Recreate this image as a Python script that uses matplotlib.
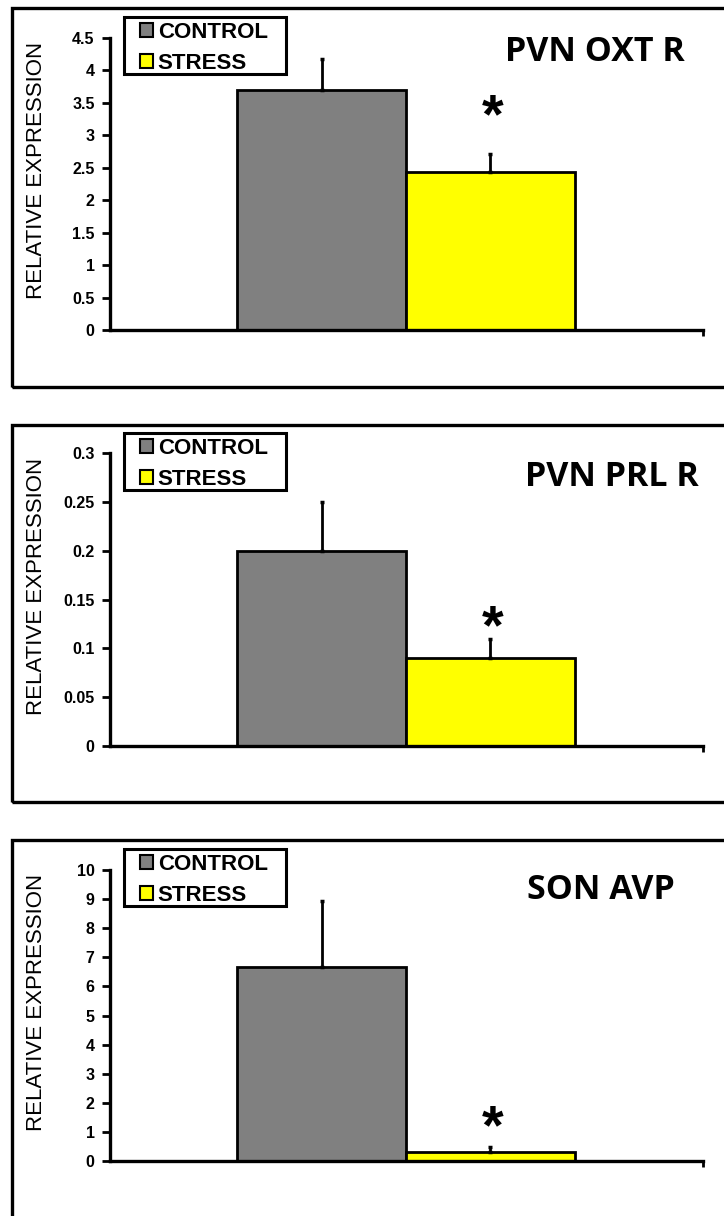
import matplotlib
matplotlib.use("Agg")
import matplotlib.pyplot as plt
from matplotlib.patches import Rectangle
import numpy as np

# ---- data ----
panel_titles = ["PVN OXT R", "PVN PRL R", "SON AVP"]
groups = ["CONTROL", "STRESS"]
control_means = [3.70, 0.20, 6.65]
control_err = [0.48, 0.05, 2.28]
stress_means = [2.43, 0.09, 0.30]
stress_err = [0.28, 0.02, 0.17]
ytick_labels = [
    ["0", "0.5", "1", "1.5", "2", "2.5", "3", "3.5", "4", "4.5"],
    ["0", "0.05", "0.1", "0.15", "0.2", "0.25", "0.3"],
    ["0", "1", "2", "3", "4", "5", "6", "7", "8", "9", "10"],
]
ylabel = "RELATIVE EXPRESSION"
sig_mark = "*"

colors = ["#808080", "#FFFF00"]

W, H = 724, 1216
fig = plt.figure(figsize=(W / 100, H / 100), dpi=100)

def fx(x):
    return x / W

def fy(y):
    return 1 - y / H

# layout in pixels (per panel)
frames = [(12, 8, 387), (12, 425, 802), (12, 840, 1230)]
axes_px = [(38, 330), (453, 746), (870, 1161)]
legend_top = [17, 433, 849]
title_pos = [(595, 52), (612, 477), (601, 890)]
star_y = [118, 629, 1129]
label_y = [170, 586, 1002]

ax_left, ax_right = 110, 703

for i in range(3):
    # outer frame
    fl, ft, fb = frames[i]
    fig.patches.append(Rectangle((fx(fl), fy(fb)), fx(740 - fl), fy(ft) - fy(fb),
                                 transform=fig.transFigure, fill=False,
                                 edgecolor="black", linewidth=2.4, zorder=0))
    top, bot = axes_px[i]
    ax = fig.add_axes([fx(ax_left), fy(bot), fx(ax_right - ax_left), fy(top) - fy(bot)])
    labels = ytick_labels[i]
    ticks = [float(t) for t in labels]
    ymax = ticks[-1]
    x = np.array([0, 1])
    means = [control_means[i], stress_means[i]]
    errs = [control_err[i], stress_err[i]]
    bars = []
    for j in range(2):
        b = ax.bar(x[j], means[j], width=1.0, color=colors[j], edgecolor="black",
                   linewidth=2.0, label=groups[j], zorder=2)
        bars.append(b)
    ax.errorbar(x, means, yerr=[[0, 0], errs], fmt="none", ecolor="black",
                elinewidth=2.0, capsize=1.5, capthick=2.5, zorder=3)
    xl0, xl1 = -1.256, 2.262
    ax.set_xlim(xl0, xl1)
    ax.set_ylim(0, ymax)
    ax.set_yticks(ticks)
    ax.set_yticklabels(labels, fontfamily="Liberation Sans", fontweight="bold", fontsize=11.5)
    ax.set_xticks([xl1])
    ax.set_xticklabels([""])
    ax.tick_params(axis="y", direction="out", length=6, width=2, pad=5)
    ax.tick_params(axis="x", direction="out", length=4, width=2)
    for s in ["top", "right"]:
        ax.spines[s].set_visible(False)
    for s in ["left", "bottom"]:
        ax.spines[s].set_linewidth(2.4)
    ax.patch.set_alpha(0)

    # significance mark
    fig.text(fx(493), fy(star_y[i]), sig_mark, ha="center", va="center",
             fontsize=40, fontweight="bold", fontfamily="Liberation Sans")

    # title
    fig.text(fx(title_pos[i][0]), fy(title_pos[i][1]), panel_titles[i], ha="center",
             va="center", fontsize=24.5, fontweight="bold", fontfamily="Open Sans")

    # y label
    fig.text(fx(37), fy(label_y[i]), ylabel, rotation=90, ha="center", va="center",
             fontsize=16, fontfamily="Liberation Sans")

    # legend box + entries
    lt = legend_top[i]
    fig.patches.append(Rectangle((fx(124), fy(lt + 57)), fx(162), fy(lt) - fy(lt + 57),
                                 transform=fig.transFigure, fill=False,
                                 edgecolor="black", linewidth=2.2, zorder=5))
    leg = ax.legend(handles=[b.patches[0] for b in bars], labels=groups,
                    loc="upper left", bbox_to_anchor=(fx(140), fy(lt + 5)),
                    bbox_transform=fig.transFigure, frameon=False,
                    handlelength=0.6, handleheight=0.6,
                    handletextpad=0.2, borderpad=0.0, labelspacing=0.45,
                    borderaxespad=0, prop={"family": "Liberation Sans", "weight": "bold", "size": 16})
    for h in leg.legend_handles:
        h.set_linewidth(1.5)

fig.savefig("out.png", dpi=100, facecolor="white")
